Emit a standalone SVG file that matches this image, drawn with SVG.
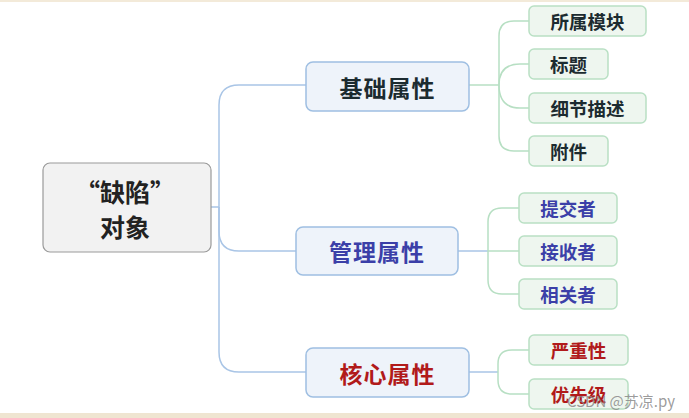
<svg xmlns="http://www.w3.org/2000/svg" width="689" height="418" viewBox="0 0 689 418">
<style>
text{font-family:"Noto Sans CJK SC","Noto Sans",sans-serif;font-weight:bold;text-anchor:middle;dominant-baseline:central}
.root rect{fill:#f2f2f2;stroke:#9a9a9a;stroke-width:1.2}
.root text{font-size:25px;fill:#222}
.mid rect{fill:#eef3fa;stroke:#9fbfe2;stroke-width:1.5}
.mid text{font-size:23px;letter-spacing:1px}
.leaf rect{fill:#eef6ef;stroke:#b9e0c4;stroke-width:1.5}
.leaf text{font-size:18.5px}
.dark{fill:#1c2b30}
.blue{fill:#3b3fa8}
.red{fill:#b11a1a}
.c1{fill:none;stroke:#a9c5e6;stroke-width:1.5}
.c2{fill:none;stroke:#b7dfc3;stroke-width:1.5}
</style>
<rect x="0" y="0" width="689" height="2" fill="#f3ead9"/>
<rect x="0" y="413" width="689" height="5" fill="#efe5d1"/>
<g id="connectors">
<path class="c1" d="M211,207 H219 V105 Q219,85 239,85 H306"/>
<path class="c1" d="M219,207 V231 Q219,251 239,251 H296"/>
<path class="c1" d="M219,207 V352 Q219,372 239,372 H306"/>
<path class="c2" d="M469,85 H499"/>
<path class="c2" d="M499,85 V36 Q499,21 514,21 H529"/>
<path class="c2" d="M499,85 Q499,64 520,64 H529"/>
<path class="c2" d="M499,85 Q499,108 520,108 H529"/>
<path class="c2" d="M499,85 V136 Q499,151 514,151 H529"/>
<path class="c1" d="M458,251 H488"/>
<path class="c2" d="M488,251 H519"/>
<path class="c2" d="M488,251 V222 Q488,208 502,208 H519"/>
<path class="c2" d="M488,251 V280 Q488,294 502,294 H519"/>
<path class="c1" d="M469,372 H498"/>
<path class="c2" d="M498,372 V364 Q498,350 512,350 H529"/>
<path class="c2" d="M498,372 V380 Q498,394 512,394 H529"/>
</g>
<g id="root" class="root">
<rect x="43" y="163" width="168" height="89" rx="7"/>
<text x="125" y="191">“缺陷”</text>
<text x="125" y="226">对象</text>
</g>
<g id="basic" class="mid">
<rect x="306" y="62" width="163" height="49" rx="7"/>
<text class="dark" x="387.5" y="86.5">基础属性</text>
</g>
<g id="manage" class="mid">
<rect x="296" y="227" width="162" height="48" rx="7"/>
<text class="blue" x="377" y="251">管理属性</text>
</g>
<g id="core" class="mid">
<rect x="306" y="348" width="163" height="49" rx="7"/>
<text class="red" x="387.5" y="372.5">核心属性</text>
</g>
<g id="module" class="leaf">
<rect x="529" y="6" width="117" height="30" rx="5"/>
<text class="dark" x="587.5" y="21">所属模块</text>
</g>
<g id="title" class="leaf">
<rect x="529" y="49" width="79" height="30" rx="5"/>
<text class="dark" x="568.5" y="64">标题</text>
</g>
<g id="detail" class="leaf">
<rect x="529" y="93" width="117" height="30" rx="5"/>
<text class="dark" x="587.5" y="108">细节描述</text>
</g>
<g id="attach" class="leaf">
<rect x="529" y="136" width="79" height="30" rx="5"/>
<text class="dark" x="568.5" y="151">附件</text>
</g>
<g id="submitter" class="leaf">
<rect x="519" y="193" width="98" height="30" rx="5"/>
<text class="blue" x="568" y="208">提交者</text>
</g>
<g id="receiver" class="leaf">
<rect x="519" y="236" width="98" height="30" rx="5"/>
<text class="blue" x="568" y="251">接收者</text>
</g>
<g id="related" class="leaf">
<rect x="519" y="279" width="98" height="30" rx="5"/>
<text class="blue" x="568" y="294">相关者</text>
</g>
<g id="severity" class="leaf">
<rect x="529" y="335" width="99" height="30" rx="5"/>
<text class="red" x="578.5" y="350">严重性</text>
</g>
<g id="priority" class="leaf">
<rect x="529" y="379" width="99" height="30" rx="5"/>
<text class="red" x="578.5" y="394">优先级</text>
</g>
<text x="621" y="400" style="font-weight:normal;font-size:15px;fill:#8a8a8a;fill-opacity:0.85">CSDN @苏凉.py</text>
</svg>
